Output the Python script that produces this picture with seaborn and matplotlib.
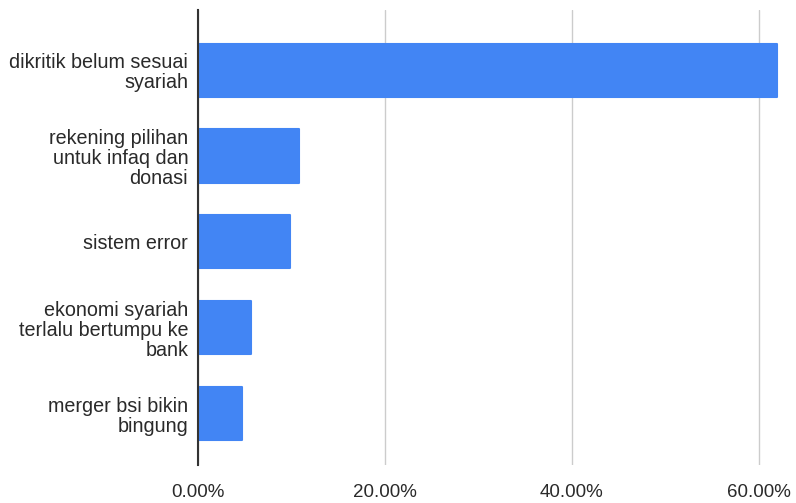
import matplotlib
matplotlib.use("Agg")
import matplotlib.pyplot as plt
import seaborn as sns
import pandas as pd
from matplotlib.ticker import FuncFormatter

categories = [
    "dikritik belum sesuai\nsyariah",
    "rekening pilihan\nuntuk infaq dan\ndonasi",
    "sistem error",
    "ekonomi syariah\nterlalu bertumpu ke\nbank",
    "merger bsi bikin\nbingung",
]
percentages = [62.0, 10.8, 9.9, 5.7, 4.7]
x_ticks = [0, 20, 40, 60]

df = pd.DataFrame({"alasan": categories, "persen": percentages})

sns.set_theme(style="white")
plt.rcParams["font.family"] = ["Liberation Sans", "DejaVu Sans"]

fig = plt.figure(figsize=(7.96, 5.03), dpi=100)
ax = fig.add_axes([0.2487, 0.0755, 0.7513, 0.9045])

sns.barplot(data=df, y="alasan", x="persen", orient="h", color="#4285F4",
            saturation=1, width=0.62, ax=ax)
for bar in ax.patches:
    bar.set_edgecolor("#4285F4")
    bar.set_linewidth(1.5)
    bar.set_joinstyle("round")

ax.set_xlim(0, 64)
ax.set_ylim(4.6, -0.7)
ax.set_xticks(x_ticks)
ax.xaxis.set_major_formatter(FuncFormatter(lambda v, _: f"{v:.2f}%"))
ax.grid(axis="x", color="#cccccc", linewidth=1.0)
ax.set_axisbelow(True)
for side in ("top", "right", "bottom"):
    ax.spines[side].set_visible(False)
ax.spines["left"].set_color("#333333")
ax.spines["left"].set_linewidth(1.5)
ax.spines["left"].set_zorder(5)

ax.set_xlabel("")
ax.set_ylabel("")
ax.tick_params(axis="x", length=0, pad=14, labelsize=13.5, labelcolor="#2a2a2a")
ax.tick_params(axis="y", length=0, pad=7, labelsize=14.2, labelcolor="#2a2a2a")
for lbl in ax.get_yticklabels():
    lbl.set_linespacing(1.08)
    lbl.set_horizontalalignment("right")
    lbl.set_multialignment("right")

fig.savefig("out.png", dpi=100, facecolor="white")
